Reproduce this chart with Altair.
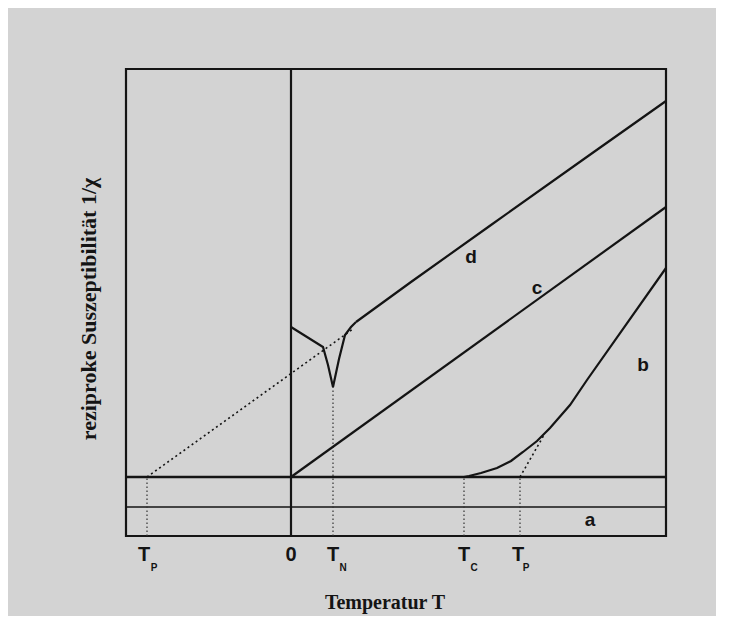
import altair as alt
import pandas as pd

# ---- data ----
T_DOMAIN = [-165, 375]
Y_DOMAIN = [-59, 408]

# curve c: paramagnet (Curie)
c_T = [0, 375]
c_Y = [0, 270]
# curve d: antiferromagnet, high-T branch
d_T = [65, 120, 200, 300, 375]
d_Y = [155, 195, 252, 323, 376]
# curve d: below T_N
dlow_T = [0, 16, 32, 37, 42, 48, 54, 60, 65]
dlow_Y = [150, 140, 130, 112, 90, 118, 142, 150, 155]
# dotted extrapolation of d to T_p (negative)
dext_T = [-144, 62]
dext_Y = [0, 148]
# curve b: ferromagnet
b_T = [173, 178, 190, 206, 220, 232, 246, 259, 279, 296, 375]
b_Y = [0, 1, 4, 9, 16, 25, 36, 49, 72, 97, 209]
# dotted extrapolation of b to T_p
bext_T = [229, 253]
bext_Y = [0, 42]

# horizontal reference lines
hline_Y = [0, -30]
hline_w = [2.6, 1.6]
# dotted marker lines
mark_T = [-144, 42, 173, 229]
mark_top = [0, 90, 0, 0]

# labels
tick_text = ["T", "0", "T", "T", "T"]
tick_T = [-147, 0, 42, 173, 227]
sub_text = ["P", "N", "C", "P"]
sub_T = [-137, 52, 183, 235]
curve_text = ["a", "b", "c", "d"]
curve_T = [299, 352, 246, 180]
curve_Y = [-43, 112, 189, 220]

# ---- build tables ----
def seg(name, ts, ys):
    return pd.DataFrame({"s": name, "T": ts, "Y": ys, "o": range(len(ts))})

solid = pd.concat([
    seg("c", c_T, c_Y), seg("d", d_T, d_Y), seg("dlow", dlow_T, dlow_Y),
    seg("b", b_T, b_Y)])
dotted = pd.concat([seg("dext", dext_T, dext_Y), seg("bext", bext_T, bext_Y)])

xs = alt.Scale(domain=T_DOMAIN, nice=False, zero=False)
ys = alt.Scale(domain=Y_DOMAIN, nice=False, zero=False)
X = lambda f="T": alt.X(f, type="quantitative", scale=xs, axis=None)
Y = lambda f="Y": alt.Y(f, type="quantitative", scale=ys, axis=None)

INK = "#141414"

solid_l = alt.Chart(solid).mark_line(color=INK, strokeWidth=2.2).encode(
    x=X(), y=Y(), detail="s:N", order="o:Q")
dotted_l = alt.Chart(dotted).mark_line(color=INK, strokeWidth=1.6, strokeDash=[2, 3]).encode(
    x=X(), y=Y(), detail="s:N", order="o:Q")

hl = alt.Chart(pd.DataFrame({"Y": hline_Y, "w": hline_w})).mark_rule(color=INK).encode(
    y=Y(), strokeWidth=alt.StrokeWidth("w:Q", scale=None))
vl = alt.Chart(pd.DataFrame({"T": [0]})).mark_rule(color=INK, strokeWidth=2.2).encode(x=X())

marks = alt.Chart(pd.DataFrame({"T": mark_T, "Y": [Y_DOMAIN[0]] * 4, "Y2": mark_top})).mark_rule(
    color="#333", strokeWidth=1.2, strokeDash=[1.5, 2.5]).encode(
    x=X(), y=Y(), y2="Y2:Q")

ticks = alt.Chart(pd.DataFrame({"t": tick_text, "T": tick_T, "Y": [-78] * 5})).mark_text(
    font="Liberation Sans", fontWeight="bold", fontSize=20, color=INK, baseline="middle").encode(
    x=X(), y=Y(), text="t:N")
subs = alt.Chart(pd.DataFrame({"t": sub_text, "T": sub_T, "Y": [-91] * 4})).mark_text(
    font="Liberation Sans", fontWeight="bold", fontSize=10, color=INK, baseline="middle").encode(
    x=X(), y=Y(), text="t:N")
curves = alt.Chart(pd.DataFrame({"t": curve_text, "T": curve_T, "Y": curve_Y})).mark_text(
    font="Liberation Sans", fontWeight="bold", fontSize=19, color=INK, baseline="middle").encode(
    x=X(), y=Y(), text="t:N")

xtitle = alt.Chart(pd.DataFrame({"t": ["Temperatur T"], "T": [94], "Y": [-126]})).mark_text(
    font="Liberation Serif", fontSize=20, fontWeight="bold", color=INK, baseline="middle").encode(
    x=X(), y=Y(), text="t:N")
ytitle = alt.Chart(pd.DataFrame({"t": ["reziproke Suszeptibilität 1/χ"], "T": [-202], "Y": [168]})).mark_text(
    font="Liberation Serif", fontSize=22, fontWeight="bold", color=INK, baseline="middle",
    angle=270).encode(x=X(), y=Y(), text="t:N")

chart = alt.layer(hl, vl, marks, dotted_l, solid_l, ticks, subs, curves, xtitle, ytitle).properties(
    width=540, height=467,
    autosize=alt.AutoSizeParams(type="none"),
    padding={"left": 118, "top": 61, "right": 50, "bottom": 80},
    background="#d3d3d3",
).configure_view(stroke=INK, strokeWidth=2.2)

chart.save("out.html", embed_options={"renderer": "svg", "actions": False})
